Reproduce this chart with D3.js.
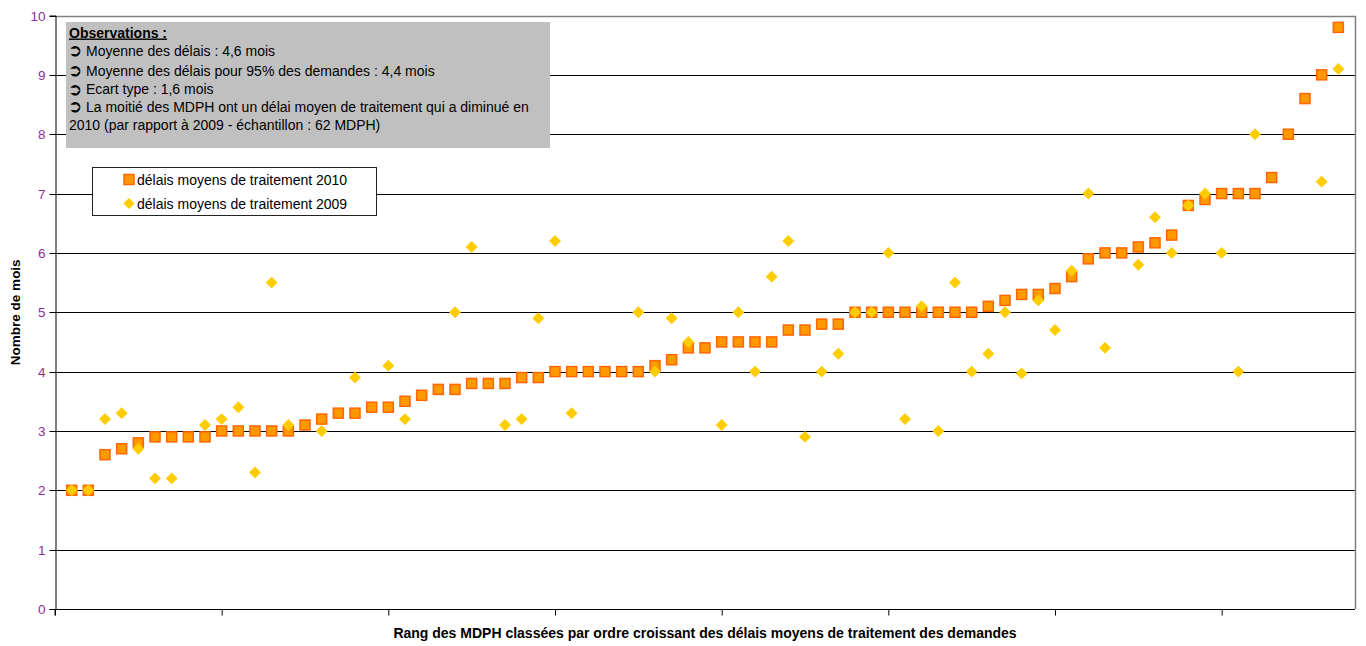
<!DOCTYPE html>
<html>
<head>
<meta charset="utf-8">
<script src="https://cdn.jsdelivr.net/npm/d3@7"></script>
<style>
  html, body { margin: 0; padding: 0; background: #fff; }
  svg { display: block; font-family: "Liberation Sans", Arial, sans-serif; }
</style>
</head>
<body>
<svg id="chart" width="1366" height="646"></svg>
<script>
// ---- data ----
const ranks = d3.range(1, 78); // 77 MDPH
const delais2010 = [2.0, 2.0, 2.6, 2.7, 2.8, 2.9, 2.9, 2.9, 2.9, 3.0,
  3.0, 3.0, 3.0, 3.0, 3.1, 3.2, 3.3, 3.3, 3.4, 3.4,
  3.5, 3.6, 3.7, 3.7, 3.8, 3.8, 3.8, 3.9, 3.9, 4.0,
  4.0, 4.0, 4.0, 4.0, 4.0, 4.1, 4.2, 4.4, 4.4, 4.5,
  4.5, 4.5, 4.5, 4.7, 4.7, 4.8, 4.8, 5.0, 5.0, 5.0,
  5.0, 5.0, 5.0, 5.0, 5.0, 5.1, 5.2, 5.3, 5.3, 5.4,
  5.6, 5.9, 6.0, 6.0, 6.1, 6.17, 6.3, 6.8, 6.9, 7.0,
  7.0, 7.0, 7.27, 8.0, 8.6, 9.0, 9.8];
const delais2009 = [2.0, 2.0, 3.2, 3.3, 2.7, 2.2, 2.2, null, 3.1, 3.2,
  3.4, 2.3, 5.5, 3.1, null, 3.0, null, 3.9, null, 4.1,
  3.2, null, null, 5.0, 6.1, null, 3.1, 3.2, 4.9, 6.2,
  3.3, null, null, null, 5.0, 4.0, 4.9, 4.5, null, 3.1,
  5.0, 4.0, 5.6, 6.2, 2.9, 4.0, 4.3, 5.0, 5.0, 6.0,
  3.2, 5.1, 3.0, 5.5, 4.0, 4.3, 5.0, 3.97, 5.2, 4.7,
  5.7, 7.0, 4.4, null, 5.8, 6.6, 6.0, 6.8, 7.0, 6.0,
  4.0, 8.0, null, null, null, 7.2, 9.1];
const yTicks = [0, 1, 2, 3, 4, 5, 6, 7, 8, 9, 10];
const xTicks = [0, 10, 20, 30, 40, 50, 60, 70];
const seriesNames = ["délais moyens de traitement 2010", "délais moyens de traitement 2009"];
const obsTitle = "Observations :";
const obsLines = [
  "Moyenne des délais : 4,6 mois",
  "Moyenne des délais pour 95% des demandes : 4,4 mois",
  "Ecart type : 1,6 mois",
  "La moitié des MDPH ont un délai moyen de traitement qui a diminué en",
  "2010 (par rapport à 2009 - échantillon : 62 MDPH)"
];
const obsArrow = [true, true, true, true, false];
const xTitle = "Rang des MDPH classées par ordre croissant des délais moyens de traitement des demandes";
const yTitle = "Nombre de mois";

// ---- layout ----
const L = 55, R = 1355, T = 15.5, B = 609;
const FS = "14px";
const svg = d3.select("#chart");
const x = d3.scaleLinear().domain([0, 78]).range([L, R]);
const y = d3.scaleLinear().domain([0, 10]).range([B, T]);

// gridlines
svg.append("g").selectAll("line").data(yTicks.filter(v => v > 0 && v < 10)).join("line")
  .attr("x1", L).attr("x2", R)
  .attr("y1", d => Math.round(y(d)) + 0.5).attr("y2", d => Math.round(y(d)) + 0.5)
  .attr("stroke", "#000").attr("stroke-width", 1);

// frame top/right (gray)
svg.append("path")
  .attr("d", `M${L},${Math.round(T)+0.5}H${R+0.5}V${B}`)
  .attr("fill", "none").attr("stroke", "#808080").attr("stroke-width", 1.5);

// y axis
const yAxis = d3.axisLeft(y).tickValues(yTicks).tickSize(6).tickPadding(4).tickFormat(d3.format("d"));
const gy = svg.append("g").attr("transform", `translate(${L + 0.5},0)`).call(yAxis);
gy.select(".domain").attr("stroke", "#000");
gy.selectAll(".tick line").attr("stroke", "#000");
gy.selectAll(".tick text").attr("fill", "#922b9c").attr("font-size", "13.5px")
  .attr("font-family", "'Liberation Sans', Arial, sans-serif");
gy.selectAll(".tick").attr("transform", d => `translate(0,${Math.round(y(d)) + 0.5})`);

// x axis
const xAxis = d3.axisBottom(x).tickValues(xTicks).tickSize(6).tickFormat("");
const gx = svg.append("g").attr("transform", `translate(0,${B + 0.5})`).call(xAxis);
gx.select(".domain").attr("stroke", "#000").attr("d", `M${L},6V0H${R}`);
gx.selectAll(".tick line").attr("stroke", "#000");

// observation box
const obs = svg.append("g");
obs.append("rect").attr("x", 66).attr("y", 22).attr("width", 484).attr("height", 126).attr("fill", "#c0c0c0");
obs.append("text").attr("x", 69).attr("y", 37.5).attr("font-size", FS).attr("font-weight", "bold")
  .attr("text-decoration", "underline").attr("fill", "#000").text(obsTitle);
const baselines = [55.5, 75.5, 94, 111.5, 130];
obsLines.forEach((t, i) => {
  if (obsArrow[i]) {
    obs.append("text").attr("x", 68).attr("y", baselines[i] + 0.5)
      .attr("font-family", "'DejaVu Sans', sans-serif").attr("font-size", "17px").attr("font-weight", "bold")
      .attr("fill", "#000").text("➲");
  }
  obs.append("text").attr("x", obsArrow[i] ? 86 : 69).attr("y", baselines[i])
    .attr("font-size", FS).attr("fill", "#000").text(t);
});

// legend
const lg = svg.append("g");
lg.append("rect").attr("x", 92.5).attr("y", 167.5).attr("width", 284).attr("height", 48)
  .attr("fill", "#fff").attr("stroke", "#222").attr("stroke-width", 1);
lg.append("rect").attr("x", 124).attr("y", 174.5).attr("width", 10).attr("height", 10)
  .attr("fill", "#ff9900").attr("stroke", "#ff6600").attr("stroke-width", 1.5);
lg.append("text").attr("x", 137).attr("y", 184.5).attr("font-size", FS).attr("fill", "#000").text(seriesNames[0]);
lg.append("path").attr("d", d3.symbol(d3.symbolDiamond2, 80)())
  .attr("transform", "translate(129,203.5)").attr("fill", "#ffcc00");
lg.append("text").attr("x", 137).attr("y", 208.5).attr("font-size", FS).attr("fill", "#000").text(seriesNames[1]);

// series 2010 (squares)
const s10 = ranks.map((r, i) => ({ r, v: delais2010[i] })).filter(d => d.v != null);
svg.append("g").selectAll("rect").data(s10).join("rect")
  .attr("x", d => x(d.r) - 5).attr("y", d => y(d.v) - 5)
  .attr("width", 10).attr("height", 10)
  .attr("fill", "#ff9900").attr("stroke", "#ff6600").attr("stroke-width", 1.5);

// series 2009 (diamonds)
const s09 = ranks.map((r, i) => ({ r, v: delais2009[i] })).filter(d => d.v != null);
svg.append("g").selectAll("path").data(s09).join("path")
  .attr("d", d3.symbol(d3.symbolDiamond2, 90)())
  .attr("transform", d => `translate(${x(d.r)},${y(d.v)})`)
  .attr("fill", "#ffcc00");

// axis titles
svg.append("text").attr("x", (L + R) / 2).attr("y", 638).attr("text-anchor", "middle")
  .attr("font-size", "14px").attr("font-weight", "bold").attr("fill", "#000").text(xTitle);
svg.append("text").attr("transform", `translate(19.5,${(T + B) / 2}) rotate(-90)`).attr("text-anchor", "middle")
  .attr("font-size", "13.5px").attr("font-weight", "bold").attr("fill", "#000").text(yTitle);
</script>
</body>
</html>
